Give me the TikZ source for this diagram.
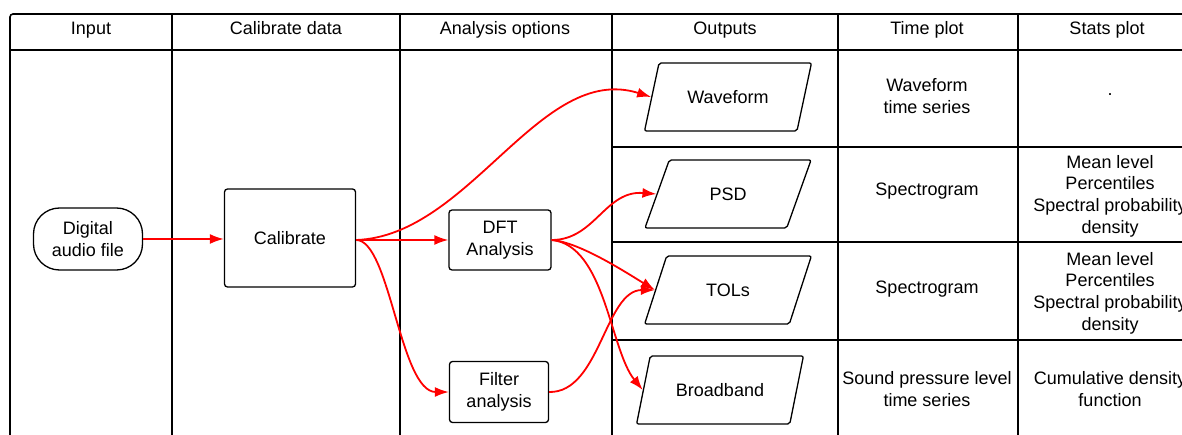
\documentclass[tikz,border=0pt]{standalone}
\usepackage{fontspec}
\setmainfont{Liberation Sans}
\usetikzlibrary{shapes.geometric,arrows.meta}
\begin{document}
\begin{tikzpicture}[x=1pt, y=-1pt, line width=1.6pt, font=\fontsize{18}{21.7}\selectfont,
  box/.style={draw, rounded corners=3pt, align=center, line width=1.3pt},
  term/.style={box, rounded corners=26pt, minimum width=109pt, minimum height=62pt},
  outbox/.style={draw, trapezium, trapezium left angle=65, trapezium right angle=115,
    trapezium stretches=true, minimum width=167pt, minimum height=68pt,
    rounded corners=2pt, line width=1.3pt},
  flow/.style={red, line width=1.8pt, -{Latex[length=14pt,width=10pt]}},
  hdr/.style={text height=13pt, text depth=4pt},
  cell/.style={align=center}]
\useasboundingbox (0,0) rectangle (1182,435);
%Table
\draw[rounded corners=3pt] (10,440) -- (10,14) -- (1190,14);
\draw (10,50) -- (1190,50);
\foreach \x in {172,400,612,838,1018} \draw (\x,14) -- (\x,440);
\foreach \y in {147,242,340} \draw (612,\y) -- (1190,\y);
%Headers
\node[hdr] (hin) at (91,30) {Input};
\node[hdr] (hcal) at (286,30) {Calibrate data};
\node[hdr] (hana) at (505,30) {Analysis options};
\node[hdr] (hout) at (725,30) {Outputs};
\node[hdr] (htime) at (927,30) {Time plot};
\node[hdr] (hstat) at (1107,30) {Stats plot};
%Flow nodes
\node[term, align=center] (audio) at (88,239) {Digital\\audio file};
\node[box, minimum width=131pt, minimum height=98pt] (cal) at (290,238) {Calibrate};
\node[box, minimum width=102pt, minimum height=60pt] (dft) at (500,240) {DFT\\Analysis};
\node[box, minimum width=99pt, minimum height=61pt] (filt) at (499,392) {Filter\\analysis};
\node[outbox] (wave) at (728,97) {Waveform};
\node[outbox] (psd) at (728,194) {PSD};
\node[outbox] (tol) at (728,290) {TOLs};
\node[outbox] (broad) at (720,390) {Broadband};
%Time plot column
\node[cell] (twave) at (927,96) {Waveform\\time series};
\node[cell] (tpsd) at (927,191) {Spectrogram};
\node[cell] (ttol) at (927,289) {Spectrogram};
\node[cell] (tbroad) at (927,389) {Sound pressure level\\time series};
%Stats plot column
\node[cell] (swave) at (1110,95) {.};
\node[cell] (spsd) at (1110,196) {Mean level\\Percentiles\\Spectral probability\\density};
\node[cell] (stol) at (1110,293) {Mean level\\Percentiles\\Spectral probability\\density};
\node[cell] (sbroad) at (1110,389) {Cumulative density\\function};
%Connectors
\draw[flow] (audio.east) -- (cal.west |- audio.east);
\draw[flow] (cal.east |- dft.west) -- (dft.west);
\draw[flow] (cal.east |- dft.west) .. controls (470,236) and (540,62) .. (wave.west);
\draw[flow] (cal.east |- dft.west) .. controls (390,240) and (400,392) .. (filt.west);
\draw[flow] (dft.east) .. controls (595,240) and (605,190) .. (psd.west);
\draw[flow] (dft.east) .. controls (580,242) and (630,275) .. (tol.west);
\draw[flow] (dft.east) .. controls (605,245) and (610,350) .. (broad.west);
\draw[flow] (filt.east) .. controls (600,393) and (605,290) .. (tol.west);
\end{tikzpicture}
\end{document}
